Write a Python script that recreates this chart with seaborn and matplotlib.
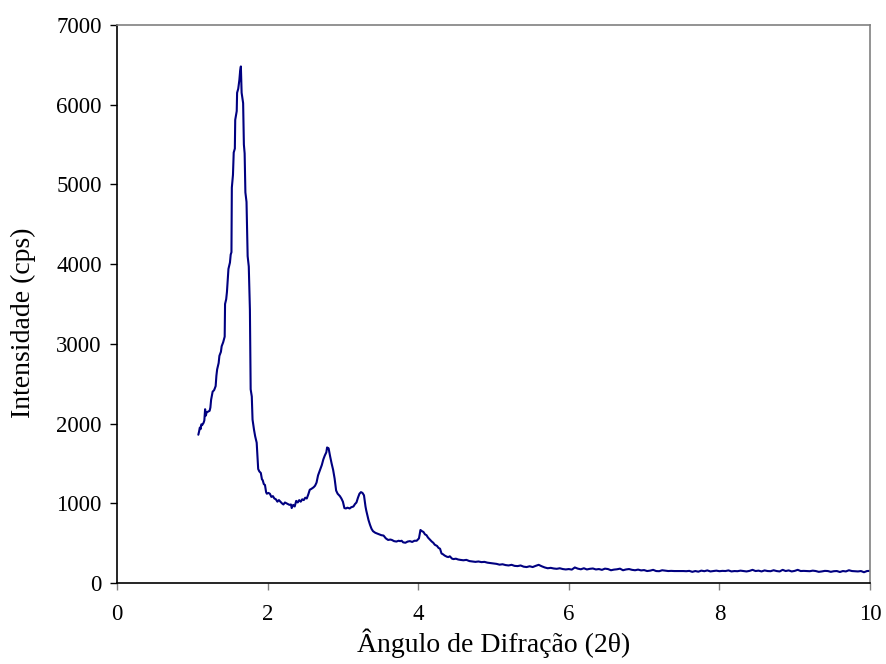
import matplotlib
matplotlib.use("Agg")
import matplotlib.pyplot as plt
import seaborn as sns
import pandas as pd

# 2-theta angle (degrees)
angle = [
    1.08, 1.09, 1.10, 1.11, 1.12, 1.13, 1.15, 1.16, 1.17, 1.18, 1.19, 1.21, 1.23, 1.24, 1.25, 1.27, 1.29, 1.31,
    1.32, 1.33, 1.35, 1.36, 1.38, 1.39, 1.41, 1.43, 1.435, 1.45, 1.46, 1.47, 1.48, 1.50, 1.51, 1.52, 1.525, 1.54,
    1.55, 1.565, 1.57, 1.59, 1.595, 1.61, 1.625, 1.635, 1.645, 1.655, 1.675, 1.685, 1.695, 1.705, 1.72, 1.735,
    1.75, 1.765, 1.775, 1.79, 1.80, 1.82, 1.835, 1.855, 1.875, 1.89, 1.91, 1.925, 1.935, 1.95, 1.965, 1.98, 1.99,
    2.01, 2.03, 2.05, 2.07, 2.09, 2.11, 2.13, 2.15, 2.17, 2.19, 2.21, 2.23, 2.25, 2.27, 2.29, 2.31, 2.32, 2.34,
    2.36, 2.38, 2.40, 2.42, 2.44, 2.46, 2.48, 2.50, 2.52, 2.54, 2.56, 2.58, 2.61, 2.63, 2.65, 2.67, 2.70, 2.72,
    2.74, 2.76, 2.78, 2.79, 2.81, 2.83, 2.85, 2.87, 2.89, 2.91, 2.93, 2.96, 2.98, 3.00, 3.02, 3.04, 3.06, 3.09,
    3.11, 3.14, 3.16, 3.18, 3.20, 3.22, 3.24, 3.26, 3.28, 3.30, 3.31, 3.34, 3.36, 3.38, 3.40, 3.43, 3.47, 3.51,
    3.54, 3.57, 3.60, 3.63, 3.65, 3.68, 3.71, 3.74, 3.76, 3.78, 3.80, 3.83, 3.86, 3.89, 3.92, 3.95, 3.98, 4.01,
    4.03, 4.05, 4.07, 4.09, 4.11, 4.13, 4.16, 4.18, 4.20, 4.22, 4.25, 4.27, 4.29, 4.31, 4.33, 4.35, 4.38, 4.40,
    4.42, 4.45, 4.47, 4.50, 4.53, 4.56, 4.60, 4.64, 4.68, 4.72, 4.76, 4.80, 4.84, 4.88, 4.92, 4.96, 5.00, 5.04,
    5.08, 5.12, 5.16, 5.20, 5.24, 5.28, 5.32, 5.36, 5.40, 5.44, 5.48, 5.52, 5.56, 5.60, 5.64, 5.68, 5.72, 5.76,
    5.80, 5.84, 5.88, 5.92, 5.96, 6.00, 6.04, 6.08, 6.12, 6.16, 6.20, 6.24, 6.28, 6.32, 6.36, 6.40, 6.44, 6.48,
    6.52, 6.56, 6.60, 6.64, 6.68, 6.72, 6.76, 6.80, 6.84, 6.88, 6.92, 6.96, 7.00, 7.04, 7.08, 7.12, 7.16, 7.20,
    7.24, 7.28, 7.32, 7.36, 7.40, 7.44, 7.48, 7.52, 7.56, 7.60, 7.64, 7.68, 7.72, 7.76, 7.80, 7.84, 7.88, 7.92,
    7.96, 8.00, 8.04, 8.08, 8.12, 8.16, 8.20, 8.24, 8.28, 8.32, 8.36, 8.40, 8.44, 8.48, 8.52, 8.56, 8.60, 8.64,
    8.68, 8.72, 8.76, 8.80, 8.84, 8.88, 8.92, 8.96, 9.00, 9.04, 9.08, 9.12, 9.16, 9.20, 9.24, 9.28, 9.32, 9.36,
    9.40, 9.44, 9.48, 9.52, 9.56, 9.60, 9.64, 9.68, 9.72, 9.76, 9.80, 9.84, 9.88, 9.92, 9.96, 10.00,
]

# intensity (cps)
intensity = [
    1860, 1900, 1950, 1930, 1990, 1980, 2010, 2040, 2180, 2100, 2140, 2150, 2160, 2200, 2300, 2400, 2420, 2470,
    2600, 2680, 2760, 2850, 2900, 2970, 3020, 3090, 3500, 3560, 3650, 3800, 3940, 4020, 4120, 4150, 4960, 5120,
    5400, 5450, 5810, 5920, 6150, 6200, 6310, 6420, 6480, 6150, 6020, 5500, 5390, 4900, 4780, 4100,
    3970, 3430, 2430, 2340, 2050, 1920, 1840, 1760, 1430, 1400, 1380, 1300, 1290, 1240, 1230, 1140, 1120,
    1130, 1120, 1080, 1090, 1060, 1050, 1020, 1040, 1020, 1000, 985, 1010, 1000, 990, 980, 985, 940, 980,
    960, 1030, 1010, 1040, 1020, 1050, 1040, 1070, 1060, 1110, 1170, 1180, 1200, 1220, 1260, 1350, 1430, 1480,
    1550, 1600, 1640, 1700, 1690, 1590, 1500, 1420, 1310, 1160, 1120, 1090, 1060, 1020, 940, 935, 945, 935,
    950, 960, 990, 1010, 1070, 1120, 1140, 1130, 1100, 960, 910, 790, 730, 680, 650, 630, 615, 600,
    595, 560, 540, 545, 540, 525, 520, 530, 525, 530, 510, 505, 520, 525, 515, 530, 530, 560,
    665, 650, 640, 610, 600, 570, 540, 520, 505, 480, 465, 440, 430, 370, 360, 345, 330, 325,
    335, 305, 300, 305, 295, 290, 285, 290, 275, 270, 265, 270, 262, 265, 255, 250, 245, 240,
    230, 235, 225, 220, 228, 215, 212, 220, 205, 200, 210, 200, 215, 228, 210, 195, 185, 190,
    182, 178, 185, 175, 170, 175, 168, 195, 180, 172, 185, 170, 178, 182, 170, 175, 165, 180,
    175, 160, 168, 172, 180, 160, 170, 175, 165, 160, 168, 158, 162, 150, 155, 165, 150, 148,
    160, 155, 150, 152, 150, 150, 150, 150, 148, 152, 140, 150, 142, 155, 148, 158, 145, 150,
    155, 148, 152, 150, 158, 145, 150, 148, 155, 150, 145, 152, 165, 150, 155, 145, 158, 150,
    148, 160, 150, 145, 165, 150, 158, 145, 152, 165, 150, 152, 150, 148, 155, 150, 140, 145,
    152, 150, 140, 148, 150, 138, 150, 145, 160, 150, 148, 145, 150, 135, 150, 152,
]

x_ticks = [0, 2, 4, 6, 8, 10]
y_ticks = [0, 1000, 2000, 3000, 4000, 5000, 6000, 7000]
x_label = "Ângulo de Difração (2θ)"
y_label = "Intensidade (cps)"

df = pd.DataFrame({"angle": angle, "intensity": intensity})

sns.set_style("white")
plt.rcParams["font.family"] = ["Liberation Serif", "DejaVu Serif"]

fig = plt.figure(figsize=(8.86, 6.64), dpi=100)
ax = fig.add_axes([117 / 886, 81 / 664, (870 - 117) / 886, (583 - 25) / 664])

sns.lineplot(data=df, x="angle", y="intensity", ax=ax, color="#000080",
             linewidth=1.5, sort=False, estimator=None)

ax.set_xlim(0, 10)
ax.set_ylim(0, 7000)
ax.set_xticks(x_ticks)
ax.set_yticks(y_ticks)
ax.set_xticklabels([str(t) for t in x_ticks])
ax.set_yticklabels([str(t) for t in y_ticks])

ax.set_xlabel(x_label, fontsize=20, labelpad=3, color="black")
ax.set_ylabel(y_label, fontsize=20, color="black")
ax.yaxis.set_label_coords(-0.108, 0.466)

ax.tick_params(axis="both", which="major", direction="out", length=5, width=1,
               labelsize=16.5, bottom=True, left=True)
ax.tick_params(axis="x", pad=10, colors="#808080", labelcolor="black")
ax.tick_params(axis="y", pad=6, colors="black", labelcolor="black")

for side in ["left", "bottom"]:
    ax.spines[side].set_color("black")
    ax.spines[side].set_linewidth(1.2)
for side in ["top", "right"]:
    ax.spines[side].set_color("#808080")
    ax.spines[side].set_linewidth(1.2)

ax.grid(False)
fig.savefig("out.png", dpi=100)
